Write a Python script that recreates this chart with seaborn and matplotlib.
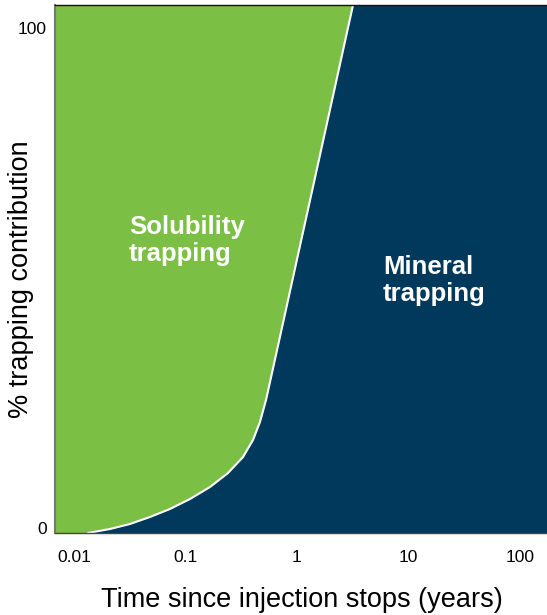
import numpy as np
import pandas as pd
import matplotlib
matplotlib.use("Agg")
import matplotlib.pyplot as plt
import seaborn as sns

# Data: boundary between solubility and mineral trapping
boundary_years = [0.01336, 0.02104, 0.03177, 0.04805, 0.07261, 0.1097, 0.1659,
                  0.2406, 0.3280, 0.4030, 0.4656, 0.5273, 0.5728, 3.18]
boundary_pct = [-1.0, -0.2, 0.8, 2.2, 3.8, 5.79, 8.19, 10.99, 14.18, 17.58,
                21.18, 25.57, 29.17, 104.5]
x_ticks = [0.01, 0.1, 1, 10, 100]
x_tick_labels = ["0.01", "0.1", "1", "10", "100"]
y_ticks = [0, 100]
y_tick_labels = ["0", "100"]

GREEN = "#7bbf45"
NAVY = "#00395c"

sns.set_theme(style="white")
plt.rcParams['font.family'] = ['Liberation Sans', 'DejaVu Sans']

fig = plt.figure(figsize=(5.47, 6.15), dpi=100)
ax = fig.add_axes([55/547, 82/615, 492/547, 528/615])
ax.set_xscale("log")
xmin, xmax = 0.00676, 174.6
ymin, ymax = -1.0, 104.5
ax.set_xlim(xmin, xmax)
ax.set_ylim(ymin, ymax)
ax.set_facecolor(GREEN)

df = pd.DataFrame({"years": boundary_years, "pct": boundary_pct})
ax.fill_betweenx(df["pct"], df["years"], xmax, color=NAVY, linewidth=0, zorder=1)
sns.lineplot(data=df, x="years", y="pct", sort=False, estimator=None,
             orient="y", color="white", linewidth=1.5, ax=ax, zorder=2)

ax.set_xticks(x_ticks)
ax.set_xticklabels(x_tick_labels)
ax.set_yticks(y_ticks)
ax.set_yticklabels(y_tick_labels)
ax.minorticks_off()
ax.tick_params(axis="both", length=0, labelsize=12.5, colors="black")
ax.tick_params(axis="x", pad=12)
ax.tick_params(axis="y", pad=6)

ax.set_xlabel("Time since injection stops (years)", fontsize=19.5, color="black")
ax.set_ylabel("% trapping contribution", fontsize=19.5, color="black")
ax.xaxis.label.set_va("center")
ax.yaxis.label.set_va("center")
ax.xaxis.set_label_coords(0.502, -0.127)
ax.yaxis.set_label_coords(-0.069, 0.481)

ax.spines["right"].set_visible(False)
ax.spines["left"].set_color("#777777")
ax.spines["left"].set_linewidth(1.5)
ax.spines["bottom"].set_color("#444444")
ax.spines["bottom"].set_linewidth(1.0)
ax.spines["top"].set_color("#111111")
ax.spines["top"].set_linewidth(1.0)

ax.text(0.0311, 57.5, "Solubility\ntrapping", color="white", fontsize=18.5,
        fontweight="bold", ha="left", va="center", linespacing=1.15)
ax.text(5.91, 49.4, "Mineral\ntrapping", color="white", fontsize=18.5,
        fontweight="bold", ha="left", va="center", linespacing=1.15)

fig.savefig("out.png", dpi=100)
